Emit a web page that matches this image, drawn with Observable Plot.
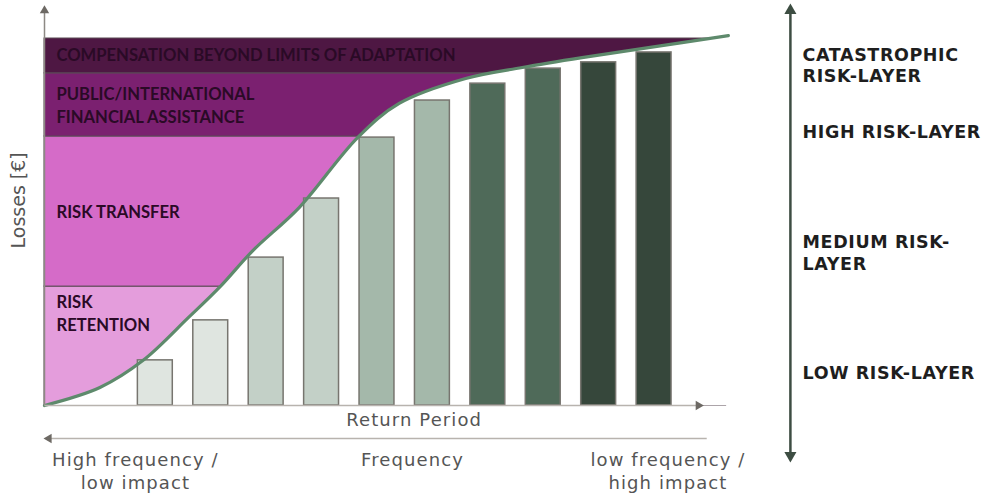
<!DOCTYPE html>
<html><head><meta charset="utf-8">
<script src="https://cdn.jsdelivr.net/npm/d3@7"></script>
<script src="https://cdn.jsdelivr.net/npm/@observablehq/plot@0.6"></script>
<style>body{margin:0;background:#fff}</style>
</head><body><div id="chart"></div>
<script>
// Risk layers (losses scale 0..100)
const layerLabels = ["RISK\nRETENTION", "RISK TRANSFER", "PUBLIC/INTERNATIONAL\nFINANCIAL ASSISTANCE", "COMPENSATION BEYOND LIMITS OF ADAPTATION"];
const layerFrom = [0, 32.4, 73.3, 90.5];
const layerTo = [32.4, 73.3, 90.5, 100];
const layerLabelY = [25.5, 53.1, 82.2, 95.9];
const layerColors = ["#e49ddc", "#d56bc8", "#7b2070", "#4e1743"];

// Loss-exceedance curve
const curveX = [0, 1.0, 1.78, 2.6, 3.17, 3.76, 4.6, 5.65, 6.4, 7.6, 8.62, 9.7, 10.9, 12.34];
const curveY = [0, 4.9, 12.3, 24.0, 32.4, 42.2, 54.0, 73.0, 82.3, 89.1, 92.1, 94.8, 97.5, 100.8];

// Return-period bars
const barIndex = [1, 2, 3, 4, 5, 6, 7, 8, 9, 10];
const barLosses = [12.3, 23.2, 40.3, 56.4, 73.0, 83.1, 87.7, 91.8, 93.5, 96.2];
const barShade = [0, 0, 1, 1, 2, 2, 3, 3, 4, 4];
const shadeColors = ["#dfe5e0", "#c3d0c7", "#a4b8aa", "#4f6a59", "#36473b"];

// Right-hand risk-layer labels
const riskLayerLabels = ["CATASTROPHIC\nRISK-LAYER", "HIGH RISK-LAYER", "MEDIUM RISK-\nLAYER", "LOW RISK-LAYER"];
const riskLayerY = [92.9, 74.7, 41.8, 9.0];

// Axis texts
const xTitle = "Return Period";
const yTitle = "Losses [€]";
const freqLabels = ["High frequency /\nlow impact", "Frequency", "low frequency /\nhigh impact"];
const freqLabelX = [1.64, 6.64, 11.25];

const layers = layerLabels.map((l, i) => ({label: l, y1: layerFrom[i], y2: layerTo[i], ly: layerLabelY[i], color: layerColors[i]}));
const curve = curveX.map((x, i) => ({x, y: curveY[i]}));
const bars = barIndex.map((b, i) => ({x: b + 1, loss: barLosses[i], color: shadeColors[barShade[i]]}));
const riskLayers = riskLayerLabels.map((l, i) => ({label: l, y: riskLayerY[i]}));
const freq = freqLabels.map((l, i) => ({label: l, x: freqLabelX[i]}));

const axisEnd = 11.8, yTop = 107.6, freqY = -9.0, rightX = 13.46, rightBottom = -13.6;
const bw = 0.315;

const chart = Plot.plot({
  width: 982, height: 495,
  marginLeft: 44, marginRight: 273, marginTop: 38, marginBottom: 90,
  x: {domain: [0, 12], axis: null},
  y: {domain: [0, 100], axis: null},
  style: {background: "#fff"},
  marks: [
    Plot.rect(layers, {x1: 0, x2: 12.3, y1: "y1", y2: "y2", fill: "color", stroke: "#5a4a55", strokeWidth: 1}),
    Plot.areaY(curve, {x: "x", y1: 0, y2: "y", fill: "#fff", curve: "catmull-rom"}),
    Plot.rect(bars, {x1: d => d.x - bw, x2: d => d.x + bw, y1: 0, y2: "loss", fill: "color", stroke: "#77756f", strokeWidth: 1.5}),
    Plot.line(curve, {x: "x", y: "y", stroke: "#5e8a6c", strokeWidth: 3.2, curve: "catmull-rom"}),
    // axes
    Plot.link([0], {x1: 0, x2: 0, y1: 0, y2: yTop, stroke: "#8d8984", strokeWidth: 1.5}),
    Plot.dot([0], {x: 0, y: yTop, symbol: "triangle", r: 3.5, fill: "#6d6964", stroke: "none"}),
    Plot.link([0], {x1: 0, x2: axisEnd, y1: 0, y2: 0, stroke: "#b8b3ae", strokeWidth: 1.5}),
    Plot.dot([0], {x: axisEnd, y: 0, symbol: "triangle", r: 3.5, rotate: 90, fill: "#6d6964", stroke: "none"}),
    Plot.link([0], {x1: 0.08, x2: 11.95, y1: freqY, y2: freqY, stroke: "#b8b3ae", strokeWidth: 1.5}),
    Plot.dot([0], {x: 0.08, y: freqY, symbol: "triangle", r: 3.5, rotate: -90, fill: "#6d6964", stroke: "none"}),
    Plot.link([0], {x1: rightX, x2: rightX, y1: rightBottom, y2: yTop, stroke: "#3d4d42", strokeWidth: 2.5}),
    Plot.dot([0], {x: rightX, y: yTop, symbol: "triangle", r: 4.5, fill: "#3d4d42", stroke: "none"}),
    Plot.dot([0], {x: rightX, y: rightBottom, symbol: "triangle", r: 4.5, rotate: 180, fill: "#3d4d42", stroke: "none"}),
    // texts
    Plot.text(layers, {x: 0.216, y: "ly", text: "label", textAnchor: "start", fill: "#2a0a26", fontFamily: "Lato", fontWeight: "bold", fontSize: 16.6, lineHeight: 1.38}),
    Plot.text(riskLayers, {x: 13.68, y: "y", text: "label", textAnchor: "start", fill: "#1e1e1e", fontFamily: "DejaVu Sans", fontWeight: "bold", fontSize: 17.5, lineHeight: 1.25}),
    Plot.text([xTitle], {x: 6.67, y: -4.1, text: d => d, fill: "#555", fontFamily: "DejaVu Sans", fontSize: 18}),
    Plot.text(freq, {x: "x", y: -12.2, text: "label", lineAnchor: "top", fill: "#555", fontFamily: "DejaVu Sans", fontSize: 18, lineHeight: 1.25}),
    Plot.text([yTitle], {x: -0.47, y: 55.9, text: d => d, rotate: -90, fill: "#555", fontFamily: "DejaVu Sans", fontSize: 19})
  ]
});
// letter spacing per text mark (order: layers, risk layers, x title, frequency labels, y title)
const textGroups = d3.select(chart).selectAll('g[aria-label="text"]').nodes();
const spacing = ["0px", "0.6px", "1.1px", "1.1px", "0px"];
textGroups.forEach((g, i) => g.style.letterSpacing = spacing[i]);
document.getElementById("chart").append(chart);
</script>
</body></html>
